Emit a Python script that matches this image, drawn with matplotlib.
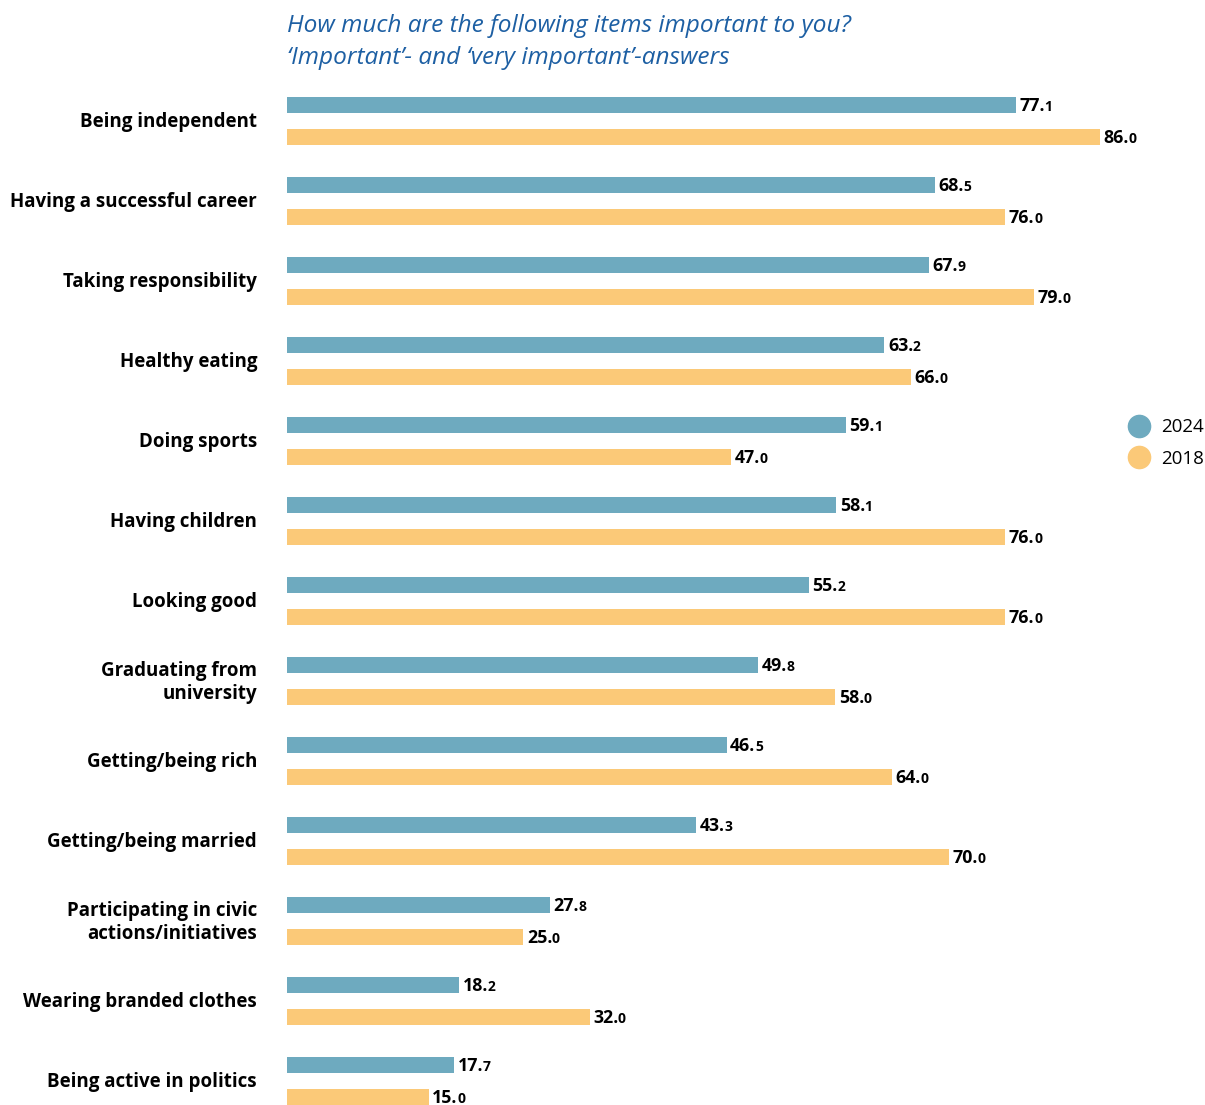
import numpy as np
import matplotlib.pyplot as plt
from matplotlib.lines import Line2D

categories = [
    "Being independent",
    "Having a successful career",
    "Taking responsibility",
    "Healthy eating",
    "Doing sports",
    "Having children",
    "Looking good",
    "Graduating from\nuniversity",
    "Getting/being rich",
    "Getting/being married",
    "Participating in civic\nactions/initiatives",
    "Wearing branded clothes",
    "Being active in politics",
]
values_2024 = [77.1, 68.5, 67.9, 63.2, 59.1, 58.1, 55.2, 49.8, 46.5, 43.3, 27.8, 18.2, 17.7]
values_2018 = [86.0, 76.0, 79.0, 66.0, 47.0, 76.0, 76.0, 58.0, 64.0, 70.0, 25.0, 32.0, 15.0]
series_names = ["2024", "2018"]

BLUE = "#6eaabf"
ORANGE = "#fbc978"
TITLE_COLOR = "#1d5fa3"
FONT = "Open Sans"

W, H = 1205, 1105
fig = plt.figure(figsize=(W / 100, H / 100), dpi=100)
x0 = 287
ax = fig.add_axes([x0 / W, 0, (W - x0) / W, 1])
px_per_unit = (1100 - x0) / 86.0
ax.set_xlim(0, (W - x0) / px_per_unit)
ax.set_ylim(12.3, -1.5125)
ax.axis("off")

y = np.arange(len(categories))
off = 0.2
ax.barh(y - off, values_2024, height=0.2, color=BLUE)
ax.barh(y + off, values_2018, height=0.2, color=ORANGE)


def value_label(xv, yv, v):
    # whole part plus point in full size, the decimal digit smaller
    whole, frac = f"{v:.1f}".split(".")
    t = ax.annotate(whole + ".", xy=(xv, yv), xytext=(2.5, -4.6), textcoords="offset points",
                    fontsize=12.8, fontweight="bold", family=FONT, va="baseline", ha="left")
    ax.annotate(frac, xy=(1, yv), xycoords=(t, "data"), xytext=(-0.3, -4.6),
                textcoords="offset points", fontsize=10, fontweight="bold",
                family=FONT, va="baseline", ha="left")


for i in range(len(categories)):
    value_label(values_2024[i], y[i] - off, values_2024[i])
    value_label(values_2018[i], y[i] + off, values_2018[i])
    fig.text(257 / W, 1 - (122.5 + 80 * i) / H, categories[i], ha="right", va="center",
             fontsize=13.5, fontweight="bold", family=FONT, linespacing=1.25)

fig.text(x0 / W, 1 - 26 / H, "How much are the following items important to you?",
         fontsize=17.6, style="italic", color=TITLE_COLOR, family=FONT, va="center")
fig.text(x0 / W, 1 - 58 / H, "\u2018Important\u2019- and \u2018very important\u2019-answers",
         fontsize=17.6, style="italic", color=TITLE_COLOR, family=FONT, va="center")

handles = [Line2D([], [], marker="o", linestyle="", markersize=16, color=c)
           for c in (BLUE, ORANGE)]
fig.legend(handles, series_names, loc="center left", bbox_to_anchor=(1118 / W, 1 - 443 / H),
           frameon=False, prop={"family": FONT, "size": 13.5}, handletextpad=0.6,
           labelspacing=0.7, borderpad=0, handlelength=1.2)

fig.savefig("out.png", dpi=100)
